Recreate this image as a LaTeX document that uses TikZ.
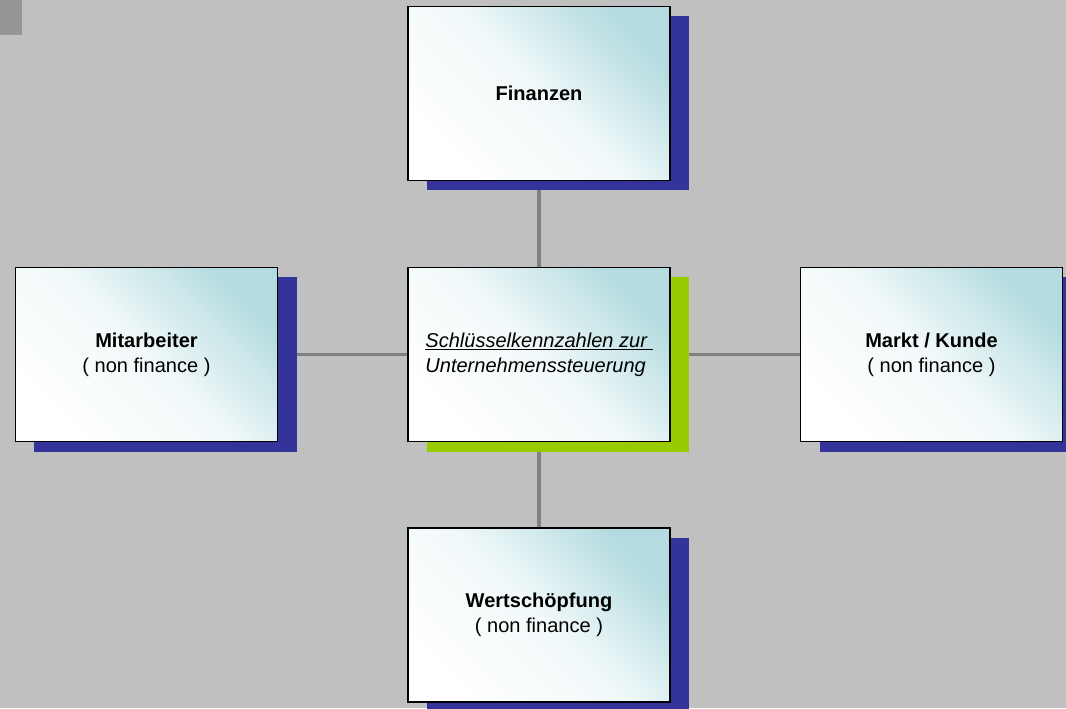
\documentclass[tikz,border=0pt]{standalone}
\usepackage{fontspec}
\setmainfont{Liberation Sans}
\usetikzlibrary{shadows,backgrounds}
\definecolor{slidegray}{RGB}{192,192,192}
\definecolor{cornergray}{RGB}{150,150,150}
\definecolor{linkgray}{RGB}{128,128,128}
\definecolor{cardcyan}{RGB}{180,220,224}
\definecolor{shadowblue}{RGB}{51,51,153}
\definecolor{shadowgreen}{RGB}{153,204,0}
\tikzset{
	card/.style={draw=black, line width=0.6pt, minimum width=5.24cm, minimum height=3.48cm,
		align=center, top color=cardcyan, bottom color=white, middle color=white!82!cardcyan,
		shading angle=-45, font=\fontsize{11.4}{14.4}\selectfont},
	blueshade/.style={drop shadow={shadow xshift=0.38cm, shadow yshift=-0.2cm, fill=shadowblue, opacity=1}},
	greenshade/.style={drop shadow={shadow xshift=0.38cm, shadow yshift=-0.2cm, fill=shadowgreen, opacity=1}},
	link/.style={draw=linkgray, line width=2pt}
}

\begin{document}
\begin{tikzpicture}
			%%%%% START %%%%%
			
			\useasboundingbox (0, 0) rectangle (21.32, 14.16);
			
			\node[card, greenshade, align=left] (ctr) at (10.78, 7.07) {\textit{\underline{Schlüsselkennzahlen zur\ }}\\\textit{Unternehmenssteuerung}};
			\node[card, blueshade] (fin) at (10.78, 12.29) {\textbf{Finanzen}};
			\node[card, blueshade] (mit) at (2.93, 7.07) {\textbf{Mitarbeiter}\\( non finance )};
			\node[card, blueshade] (markt) at (18.63, 7.07) {\textbf{Markt / Kunde}\\( non finance )};
			\node[card, blueshade] (wert) at (10.78, 1.86) {\textbf{Wertschöpfung}\\( non finance )};
			
			\begin{scope}[on background layer]
				\fill[slidegray] (0, 0) rectangle (21.32, 14.16);
				\fill[cornergray] (0, 14.16) rectangle (0.44, 13.46);
				
				\draw[link] (fin) -- (ctr);
				\draw[link] (ctr) -- (wert);
				\draw[link] (mit) -- (ctr);
				\draw[link] (ctr) -- (markt);
			\end{scope}
			
			%%%%% END %%%%%
		\end{tikzpicture}
\end{document}
